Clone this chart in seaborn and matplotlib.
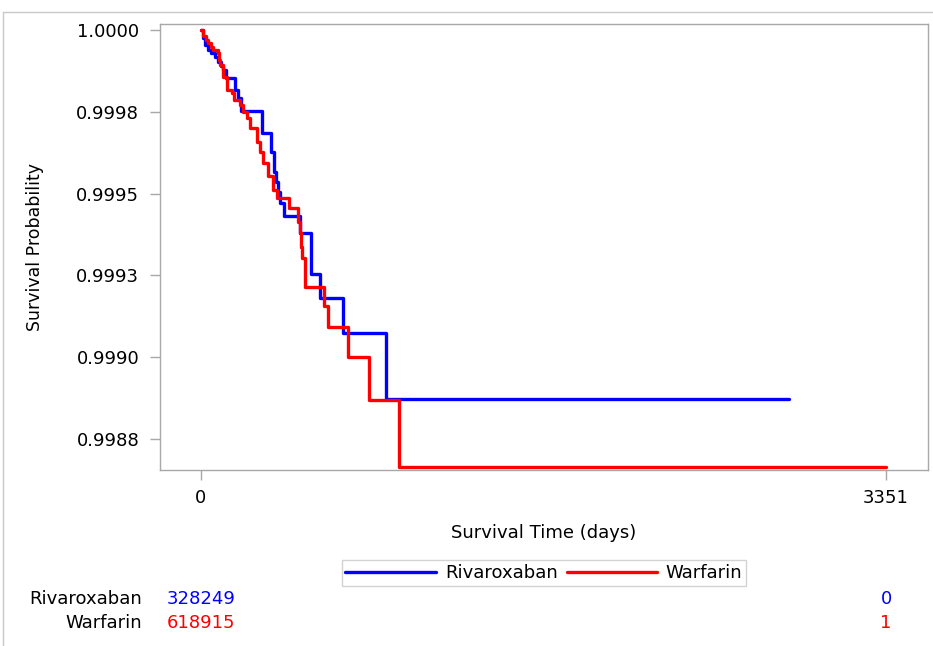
import pandas as pd
import matplotlib
matplotlib.use("Agg")
import matplotlib.pyplot as plt
import matplotlib.transforms as mtransforms
from matplotlib.lines import Line2D
import seaborn as sns

# Kaplan-Meier steps (days, survival after the drop)
riva_time = [0, 10, 20, 34, 49, 68, 83, 98, 108, 122, 166, 181, 196, 298, 342,
             357, 367, 377, 386, 406, 484, 538, 582, 695, 905, 2876]
riva_surv = [1.0, 0.999976, 0.999954, 0.999939, 0.99993, 0.999917, 0.999902,
             0.99989, 0.999878, 0.999853, 0.999817, 0.999792, 0.999752, 0.999685,
             0.999627, 0.999566, 0.999535, 0.999505, 0.999471, 0.999432, 0.99938,
             0.999254, 0.999181, 0.999074, 0.998872, 0.998872]

warf_time = [0, 10, 24, 34, 49, 59, 83, 88, 93, 108, 127, 152, 161, 191, 205,
             225, 240, 274, 289, 303, 328, 352, 372, 430, 475, 484, 489, 494,
             509, 602, 621, 719, 822, 969, 3351]
warf_surv = [1.0, 0.999982, 0.999969, 0.99996, 0.999948, 0.999939, 0.99993,
             0.999908, 0.999893, 0.999856, 0.999817, 0.999807, 0.999786, 0.999771,
             0.999749, 0.999731, 0.9997, 0.999658, 0.999627, 0.999594, 0.999554,
             0.999511, 0.999487, 0.999456, 0.999413, 0.99938, 0.999337, 0.999303,
             0.999215, 0.999157, 0.999092, 0.999001, 0.998869, 0.998665, 0.998665]

groups = ["Rivaroxaban", "Warfarin"]
colors = {"Rivaroxaban": "#0000FF", "Warfarin": "#FF0000"}

y_ticks = [1.0, 0.99975, 0.9995, 0.99925, 0.999, 0.99875]
y_tick_labels = ["1.0000", "0.9998", "0.9995", "0.9993", "0.9990", "0.9988"]
x_ticks = [0, 3351]
x_tick_labels = ["0", "3351"]

# numbers at risk at the two x ticks
at_risk = {"Rivaroxaban": [328249, 0], "Warfarin": [618915, 1]}

df = pd.concat([
    pd.DataFrame({"time": riva_time, "surv": riva_surv, "group": "Rivaroxaban"}),
    pd.DataFrame({"time": warf_time, "surv": warf_surv, "group": "Warfarin"}),
])

sns.set_style("white")
plt.rcParams["font.family"] = ["DejaVu Sans"]
plt.rcParams["text.color"] = "black"
plt.rcParams["axes.labelcolor"] = "black"

fig = plt.figure(figsize=(9.33, 6.46), dpi=100)
ax = fig.add_axes([160 / 933, 1 - 470 / 646, 768 / 933, 446 / 646])

sns.lineplot(data=df, x="time", y="surv", hue="group", palette=colors,
             drawstyle="steps-post", estimator=None, sort=False,
             linewidth=2.4, legend=False, ax=ax)

ax.set_xlim(-200, 3556)
ax.set_ylim(0.998655, 1.0000183)
ax.set_xticks(x_ticks)
ax.set_xticklabels(x_tick_labels)
ax.set_yticks(y_ticks)
ax.set_yticklabels(y_tick_labels)
ax.tick_params(axis="both", direction="out", length=7, width=1, color="#A8A8A8",
               labelsize=13, labelcolor="black", bottom=True, left=True)
ax.tick_params(axis="y", pad=8)
ax.tick_params(axis="x", pad=7)
for s in ax.spines.values():
    s.set_color("#A8A8A8")
    s.set_linewidth(1)

ax.set_xlabel("Survival Time (days)", fontsize=13, labelpad=12)
ax.set_ylabel("Survival Probability", fontsize=12.5, labelpad=23)

handles = [Line2D([], [], color=colors[g], linewidth=2.4) for g in groups]
leg = fig.legend(handles, groups, loc="center", bbox_to_anchor=(544 / 933, 1 - 573 / 646),
                 ncol=2, frameon=True, fancybox=False, fontsize=13,
                 handlelength=5.0, columnspacing=0.5, handletextpad=0.5,
                 borderpad=0.2, borderaxespad=0)
leg.get_frame().set_edgecolor("#C8C8C8")
leg.get_frame().set_linewidth(1)

# at-risk table under the plot
trans = mtransforms.blended_transform_factory(ax.transData, fig.transFigure)
for i, g in enumerate(groups):
    yy = 1 - (599 + 24 * i) / 646
    fig.text(142 / 933, yy, g, ha="right", va="center", fontsize=13)
    for xt, n in zip(x_ticks, at_risk[g]):
        fig.text(xt, yy, str(n), transform=trans, ha="center", va="center",
                 fontsize=13, color=colors[g])

# outer graph border
fig.add_artist(Line2D([3 / 933, 3 / 933], [0, 1 - 12 / 646], transform=fig.transFigure,
                      color="#C8C8C8", linewidth=1))
fig.add_artist(Line2D([3 / 933, 1], [1 - 12 / 646, 1 - 12 / 646], transform=fig.transFigure,
                      color="#C8C8C8", linewidth=1))

fig.savefig("out.png", dpi=100)
